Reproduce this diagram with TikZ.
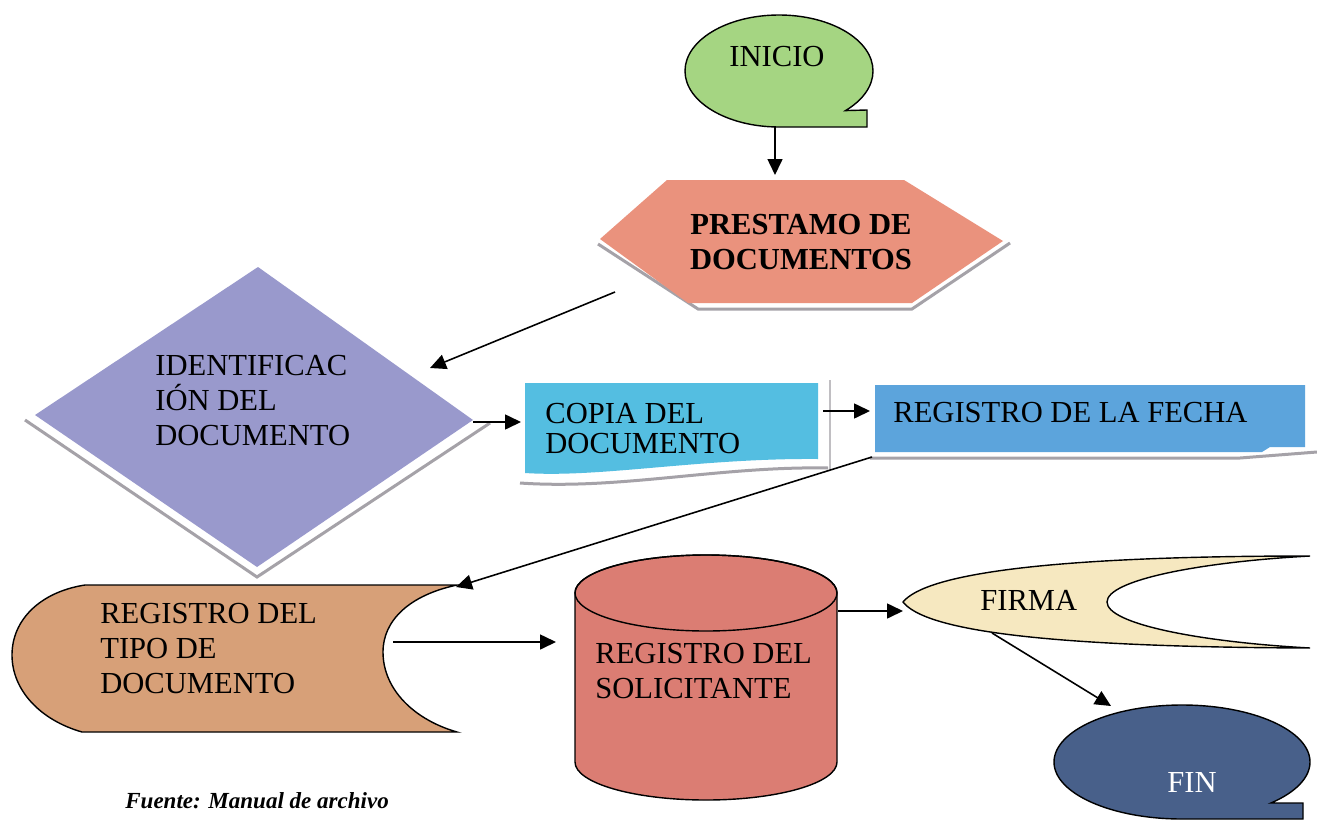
\documentclass[tikz,border=0pt]{standalone}
\usepackage{fontspec}
\setmainfont{Liberation Serif}
\usetikzlibrary{arrows.meta}
\definecolor{cIni}{RGB}{165,213,130}
\definecolor{cPre}{RGB}{234,146,125}
\definecolor{cIde}{RGB}{153,153,204}
\definecolor{cCop}{RGB}{84,190,225}
\definecolor{cFec}{RGB}{92,164,220}
\definecolor{cTip}{RGB}{215,160,120}
\definecolor{cSol}{RGB}{219,125,115}
\definecolor{cFir}{RGB}{246,232,192}
\definecolor{cFin}{RGB}{72,96,138}
\definecolor{cShd}{RGB}{165,162,168}
\newcommand\fsA{\fontsize{17.4pt}{19.9pt}\selectfont}
\newcommand\fsB{\fontsize{17.4pt}{17.3pt}\selectfont}
\newcommand\fsC{\fontsize{13.1pt}{15pt}\selectfont}
\begin{document}
\begin{tikzpicture}[x=0.02cm,y=-0.02cm,
  arr/.style={line width=0.9pt,-{Triangle[length=0.32cm,width=0.3cm]}},
  outl/.style={draw=black,line width=0.8pt},
  shd/.style={draw=cShd,line width=0.06cm},
  txt/.style={inner sep=0pt,font=\fsA},
  lbl/.style={inner sep=0pt,font=\fsA,align=left,anchor=north west}]
\useasboundingbox (0,0) rectangle (1317,821);
\fill[white] (0,0) rectangle (1317,821);
\begin{scope}
\clip (0,0) rectangle (1317,821);
% INICIO
\path[outl,fill=cIni] (779,127) arc[start angle=90,end angle=405,x radius=94,y radius=56]
  -- (867,110) -- (867,127) -- cycle;
% PRESTAMO
\draw[shd] (598,244) -- (698,309) -- (912,309) -- (1010,243);
\fill[cPre] (667,180) -- (904,180) -- (1003,241) -- (912,303) -- (688,303) -- (600,239) -- cycle;
% IDENTIFICACION
\draw[shd] (25,420) -- (257,577) -- (490,423);
\fill[cIde] (258,267) -- (473,420) -- (257,567) -- (35,415) -- cycle;
% COPIA
\draw[shd] (520,483) .. controls (620,490) and (720,466) .. (828,468);
\draw[cShd!70,line width=0.6pt] (830,380) -- (830,470);
\fill[cCop] (525,383) -- (818,383) -- (818,459) .. controls (700,458) and (600,478) .. (525,473) -- cycle;
% REGISTRO DE LA FECHA
\draw[shd] (870,458) -- (1240,458) -- (1317,452);
\fill[cFec] (875,385) -- (1305,385) -- (1305,447) -- (1270,447) -- (1262,452) -- (875,452) -- cycle;
% REGISTRO DEL TIPO
\path[outl,fill=cTip] (85,585) -- (457,585)
  .. controls (410,595) and (383,620) .. (383,652)
  .. controls (383,690) and (415,720) .. (457,732)
  -- (82,732)
  .. controls (40,720) and (12,690) .. (12,655)
  .. controls (12,620) and (40,592) .. (85,585) -- cycle;
% SOLICITANTE (cylinder)
\path[outl,fill=cSol] (575,593) -- (575,762) arc[start angle=180,end angle=0,x radius=131,y radius=38]
  -- (837,593) arc[start angle=0,end angle=-180,x radius=131,y radius=38] -- cycle;
\draw[outl] (706,593) ellipse[x radius=131,y radius=38];
% FIRMA
\path[outl,fill=cFir] (1310,556) .. controls (1200,562) and (1107,580) .. (1107,602)
  .. controls (1107,624) and (1200,642) .. (1310,648)
  .. controls (1040,647) and (925,630) .. (903,602)
  .. controls (925,575) and (1040,556) .. (1310,556) -- cycle;
% FIN
\path[outl,fill=cFin] (1182,819) arc[start angle=90,end angle=406,x radius=128,y radius=57]
  -- (1303,803) -- (1303,819) -- cycle;
\end{scope}
% texts
\node[txt,anchor=base] (tIni) at (777,67) {INICIO};
\node[lbl,font=\fsA\bfseries,align=center,anchor=north] (tPre) at (801,214) {PRESTAMO DE\\DOCUMENTOS};
\node[lbl] (tIde) at (155,355) {IDENTIFICAC\\IÓN DEL\\DOCUMENTO};
\node[lbl,font=\fsB] (tCop) at (545,403) {COPIA DEL\\DOCUMENTO};
\node[txt,anchor=base west] (tFec) at (893,422) {REGISTRO DE LA FECHA};
\node[lbl] (tTip) at (100,603) {REGISTRO DEL\\TIPO DE\\DOCUMENTO};
\node[lbl] (tSol) at (595,643) {REGISTRO DEL\\SOLICITANTE};
\node[txt,anchor=base west] (tFir) at (980,610) {FIRMA};
\node[txt,anchor=base west,text=white] (tFin) at (1167,792) {FIN};
\node[inner sep=0pt,anchor=base west,font=\fsC\bfseries\itshape] (src) at (125,808) {Fuente: Manual de archivo};
% connector end points
\coordinate (iniOut) at (775,127);
\coordinate (preIn) at (775,175);
\coordinate (preOut) at (615,292);
\coordinate (ideIn) at (430,368);
\coordinate (ideOut) at (473,422);
\coordinate (copIn) at (521,422);
\coordinate (copOut) at (823,411);
\coordinate (fecIn) at (870,411);
\coordinate (fecOut) at (872,457);
\coordinate (tipIn) at (456,587);
\coordinate (tipOut) at (393,642);
\coordinate (solIn) at (556,642);
\coordinate (solOut) at (838,611);
\coordinate (firIn) at (903,611);
\coordinate (firOut) at (992,633);
\coordinate (finIn) at (1111,706);
\draw[arr] (iniOut) -- (preIn);
\draw[arr] (preOut) -- (ideIn);
\draw[arr] (ideOut) -- (copIn);
\draw[arr] (copOut) -- (fecIn);
\draw[arr] (fecOut) -- (tipIn);
\draw[arr] (tipOut) -- (solIn);
\draw[arr] (solOut) -- (firIn);
\draw[arr] (firOut) -- (finIn);
\end{tikzpicture}
\end{document}
